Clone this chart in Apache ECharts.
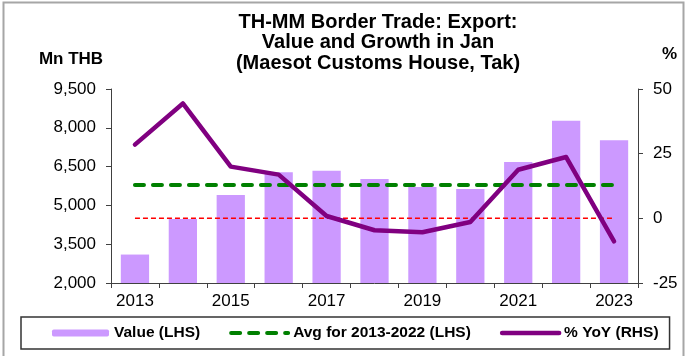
<!DOCTYPE html>
<html>
<head>
<meta charset="utf-8">
<title>TH-MM Border Trade: Export</title>
<script src="https://cdn.jsdelivr.net/npm/echarts@6/dist/echarts.min.js"></script>
<style>
  html, body { margin: 0; padding: 0; background: #fff; }
  #chart { width: 686px; height: 356px; }
</style>
</head>
<body>
<div id="chart"></div>
<script>
// Border trade exports through Maesot Customs House (Tak), January of each year
const years = ['2013', '2014', '2015', '2016', '2017', '2018', '2019', '2020', '2021', '2022', '2023'];
const exportValue = [3100, 4470, 5400, 6280, 6340, 6020, 5710, 5630, 6680, 8270, 7520]; // Mn THB
const yoyGrowth = [28.5, 44.4, 20.0, 16.9, 0.9, -4.6, -5.4, -1.4, 18.8, 23.7, -8.9];   // %
const avgValue = 5790;   // average of 2013-2022, Mn THB
const zeroLevel = 0;     // % reference line

const leftTicks = { min: 2000, max: 9500, step: 1500 };
const rightTicks = { min: -25, max: 50, step: 25 };

const titleLines = ['TH-MM Border Trade: Export:', 'Value and Growth in Jan', '(Maesot Customs House, Tak)'];
const seriesNames = ['Value (LHS)', 'Avg for 2013-2022 (LHS)', '% YoY (RHS)'];

const FONT = '"Liberation Sans", Arial, Helvetica, sans-serif';
const AXIS_COLOR = '#404040';
const NO_SYMBOL = { color: 'rgba(0,0,0,0)', opacity: 0, borderWidth: 0 };

const avgStyle = { color: '#008000', width: 4, type: [9, 9], cap: 'round' };
const yoyStyle = { color: '#800080', width: 4.5, cap: 'round', join: 'round' };

const avgLine = years.map(() => avgValue);
const zeroLine = years.map(() => zeroLevel);

const chart = echarts.init(document.getElementById('chart'), null, { renderer: 'canvas' });

chart.setOption({
  backgroundColor: '#fff',
  animation: false,
  textStyle: { fontFamily: FONT, color: '#000' },
  grid: { left: 111, right: 48, top: 89, bottom: 73, containLabel: false, outerBoundsMode: 'none' },
  graphic: [
    {
      type: 'rect',
      shape: { x: 3.5, y: 2.5, width: 680, height: 400 },
      style: { fill: 'none', stroke: '#a6a6a6', lineWidth: 2 },
      silent: true
    },
    {
      type: 'text',
      x: 378, y: 12,
      style: {
        text: titleLines.join('\n'),
        font: 'bold 20px ' + FONT,
        fill: '#000',
        align: 'center',
        verticalAlign: 'top',
        lineHeight: 20.5
      },
      silent: true
    }
  ],
  legend: {
    data: [
      { name: seriesNames[0] },
      { name: seriesNames[1], itemStyle: NO_SYMBOL, lineStyle: avgStyle },
      { name: seriesNames[2], itemStyle: NO_SYMBOL, lineStyle: yoyStyle }
    ],
    left: 21,
    top: 317,
    width: 653,
    padding: [8, 11, 8, 31],
    itemGap: 29,
    itemWidth: 57,
    itemHeight: 7,
    borderColor: '#333',
    borderWidth: 1.5,
    borderRadius: 0,
    textStyle: { fontFamily: FONT, fontSize: 15.5, fontWeight: 'bold', color: '#000' }
  },
  xAxis: {
    type: 'category',
    data: years,
    boundaryGap: true,
    axisLine: { show: true, onZero: false, lineStyle: { color: AXIS_COLOR, width: 1 } },
    axisTick: { show: true, interval: 0, length: 5, alignWithLabel: false, lineStyle: { color: AXIS_COLOR } },
    axisLabel: { interval: 1, margin: 10, fontSize: 17, color: '#000', fontFamily: FONT },
    splitLine: { show: false }
  },
  yAxis: [
    {
      type: 'value',
      position: 'left',
      min: leftTicks.min,
      max: leftTicks.max,
      interval: leftTicks.step,
      name: 'Mn THB',
      nameLocation: 'end',
      nameGap: 21,
      nameTextStyle: { fontFamily: FONT, fontSize: 17, fontWeight: 'bold', color: '#000', padding: [0, 80, 0, 0] },
      axisLine: { show: true, lineStyle: { color: AXIS_COLOR, width: 1 } },
      axisTick: { show: true, inside: false, length: 5, lineStyle: { color: AXIS_COLOR } },
      axisLabel: {
        margin: 15, fontSize: 17, color: '#000', fontFamily: FONT,
        formatter: v => v.toLocaleString('en-US')
      },
      splitLine: { show: false }
    },
    {
      type: 'value',
      position: 'right',
      min: rightTicks.min,
      max: rightTicks.max,
      interval: rightTicks.step,
      name: '%',
      nameLocation: 'end',
      nameGap: 26,
      nameTextStyle: { fontFamily: FONT, fontSize: 17, fontWeight: 'bold', color: '#000', padding: [0, 0, 0, 63] },
      axisLine: { show: true, lineStyle: { color: AXIS_COLOR, width: 1 } },
      axisTick: { show: true, inside: false, length: 5, lineStyle: { color: AXIS_COLOR } },
      axisLabel: { margin: 15, fontSize: 17, color: '#000', fontFamily: FONT },
      splitLine: { show: false }
    }
  ],
  series: [
    {
      name: seriesNames[0],
      type: 'bar',
      yAxisIndex: 0,
      data: exportValue,
      barCategoryGap: '41%',
      itemStyle: { color: '#cc99ff' },
      z: 1
    },
    {
      name: 'zero',
      type: 'line',
      yAxisIndex: 1,
      data: zeroLine,
      symbol: 'none',
      lineStyle: { color: '#ff0000', width: 1.5, type: [5, 3] },
      z: 2
    },
    {
      name: seriesNames[1],
      type: 'line',
      yAxisIndex: 0,
      data: avgLine,
      symbol: 'none',
      lineStyle: avgStyle,
      itemStyle: { color: '#008000' },
      z: 3
    },
    {
      name: seriesNames[2],
      type: 'line',
      yAxisIndex: 1,
      data: yoyGrowth,
      symbol: 'none',
      lineStyle: yoyStyle,
      itemStyle: { color: '#800080' },
      z: 4
    }
  ]
});
</script>
</body>
</html>
